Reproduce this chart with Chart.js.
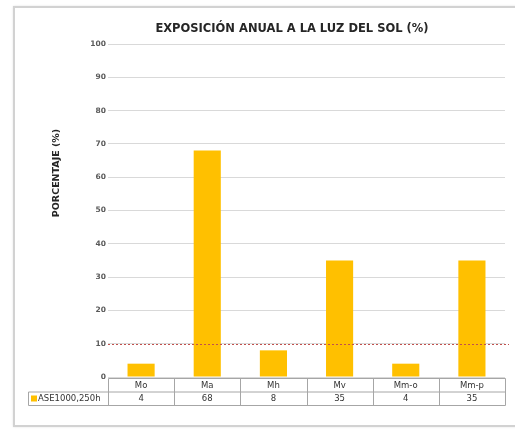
<!DOCTYPE html>
<html>
<head>
<meta charset="utf-8">
<script src="https://cdn.jsdelivr.net/npm/chart.js@4"></script>
<style>
  html, body { margin: 0; padding: 0; background: #fff; overflow: hidden; }
  #wrap { position: relative; width: 515px; height: 430px; }
  #frame { position: absolute; left: 13px; top: 6px; width: 520px; height: 417px;
           border: 2px solid #d2d2d2; border-right: none; box-shadow: 0 0 2px #e4e4e4; }
  canvas { position: absolute; left: 0; top: 0; }
</style>
</head>
<body>
<div id="wrap">
  <div id="frame"></div>
  <canvas id="c" width="515" height="430"></canvas>
</div>
<script>
const titleText = 'EXPOSICIÓN ANUAL A LA LUZ DEL SOL (%)';
const yAxisTitle = 'PORCENTAJE (%)';
const categories = ['Mo', 'Ma', 'Mh', 'Mv', 'Mm-o', 'Mm-p'];
const seriesName = 'ASE1000,250h';
const seriesValues = [4, 68, 8, 35, 4, 35];
const thresholdValue = 10;
const yMin = 0, yMax = 100, yStep = 10;

const barColor = '#FFC000';
const textColor = '#333333';
const lineColor = '#a6a6a6';
const FONT = '"DejaVu Sans", "Liberation Sans", Arial, sans-serif';

const titlesPlugin = {
  id: 'titles',
  afterDraw(chart) {
    const { ctx } = chart;
    ctx.save();
    ctx.fillStyle = '#262626';
    ctx.font = 'bold 11.5px ' + FONT;
    ctx.textAlign = 'center';
    ctx.textBaseline = 'middle';
    ctx.fillText(titleText, 292, 29.5);
    ctx.translate(57, 173);
    ctx.rotate(-Math.PI / 2);
    ctx.font = 'bold 9.5px ' + FONT;
    ctx.fillText(yAxisTitle, 0, 0);
    ctx.restore();
  }
};

const thresholdPlugin = {
  id: 'threshold',
  afterDatasetsDraw(chart) {
    const { ctx, chartArea, scales } = chart;
    const y = Math.round(scales.y.getPixelForValue(thresholdValue)) + 0.5;
    ctx.save();
    ctx.strokeStyle = '#C0504D';
    ctx.lineWidth = 1;
    ctx.setLineDash([2, 2]);
    ctx.beginPath();
    ctx.moveTo(chartArea.left, y);
    ctx.lineTo(chartArea.right + 4, y);
    ctx.stroke();
    ctx.restore();
  }
};

const tablePlugin = {
  id: 'dataTable',
  afterDraw(chart) {
    const { ctx, chartArea, scales } = chart;
    const xs = scales.x;
    const n = categories.length;
    const colW = (chartArea.right - chartArea.left) / n;
    const top = Math.round(scales.y.getPixelForValue(0)) + 1.5;
    const rowH = 13.5;
    const mid = top + rowH;
    const bot = mid + rowH;
    const legLeft = 28.5;
    const left = Math.round(chartArea.left) + 0.5;
    const right = Math.round(chartArea.right) + 0.5;
    ctx.save();
    ctx.strokeStyle = lineColor;
    ctx.lineWidth = 1;
    ctx.beginPath();
    ctx.moveTo(left, top); ctx.lineTo(right, top);
    ctx.moveTo(legLeft, mid); ctx.lineTo(right, mid);
    ctx.moveTo(legLeft, bot); ctx.lineTo(right, bot);
    ctx.moveTo(legLeft, mid); ctx.lineTo(legLeft, bot);
    for (let i = 0; i <= n; i++) {
      const x = Math.round(chartArea.left + i * colW) + 0.5;
      ctx.moveTo(x, top); ctx.lineTo(x, bot);
    }
    ctx.stroke();
    ctx.fillStyle = textColor;
    ctx.font = '8.5px ' + FONT;
    ctx.textAlign = 'center';
    ctx.textBaseline = 'middle';
    for (let i = 0; i < n; i++) {
      const cx = xs.getPixelForValue(i);
      ctx.fillText(categories[i], cx, (top + mid) / 2 + 0.5);
      ctx.fillText(String(seriesValues[i]), cx, (mid + bot) / 2 + 0.5);
    }
    ctx.fillStyle = barColor;
    ctx.fillRect(31, mid + 3.5, 6, 6);
    ctx.fillStyle = textColor;
    ctx.textAlign = 'left';
    ctx.font = '8.5px ' + FONT;
    ctx.fillText(seriesName, 38, (mid + bot) / 2 + 0.5);
    ctx.restore();
  }
};

new Chart(document.getElementById('c'), {
  type: 'bar',
  data: {
    labels: categories,
    datasets: [{
      label: seriesName,
      data: seriesValues,
      backgroundColor: barColor,
      borderWidth: 0,
      categoryPercentage: 1,
      barPercentage: 0.41
    }]
  },
  options: {
    responsive: false,
    devicePixelRatio: 1,
    animation: false,
    layout: { padding: { left: 50, right: 10, top: 44, bottom: 53 } },
    plugins: {
      legend: { display: false },
      tooltip: { enabled: false },
      title: { display: false }
    },
    scales: {
      x: { display: false },
      y: {
        min: yMin, max: yMax,
        ticks: {
          stepSize: yStep,
          color: '#595959',
          padding: 2,
          font: { family: FONT, size: 7.5, weight: 'bold' }
        },
        grid: { color: '#d9d9d9', lineWidth: 1, drawTicks: false },
        border: { display: false },
        afterFit(scale) { scale.width = 58; }
      }
    }
  },
  plugins: [thresholdPlugin, tablePlugin, titlesPlugin]
});
</script>
</body>
</html>
